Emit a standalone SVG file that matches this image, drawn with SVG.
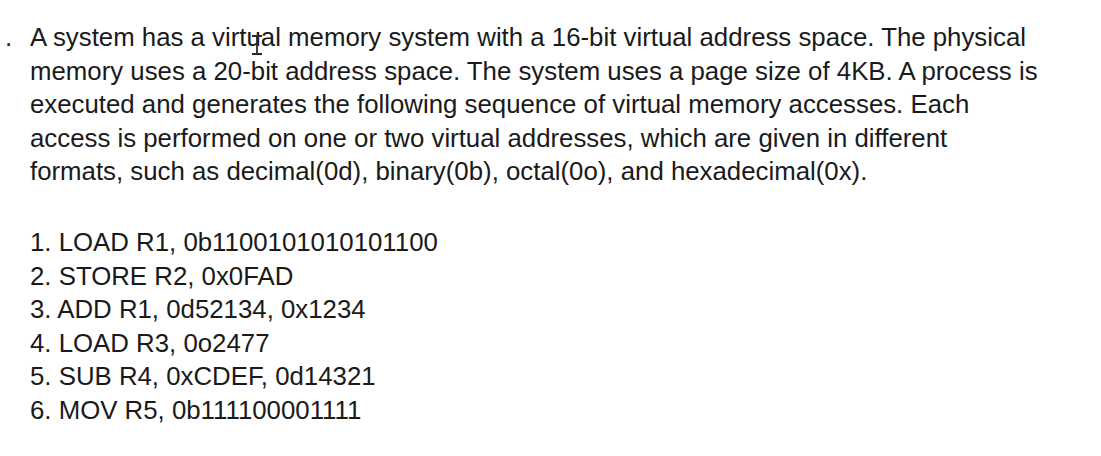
<svg xmlns="http://www.w3.org/2000/svg" width="1101" height="456" viewBox="0 0 1101 456">
<style>
.t{font-family:"Liberation Sans",Arial,sans-serif;font-size:25.8px;fill:#1a1a1a}
.cur{stroke:#2a2a2a;stroke-width:1.8;fill:none}
</style>
<rect width="1101" height="456" fill="#ffffff"/>
<g id="paragraph">
<text class="t" x="5" y="46">.</text>
<text class="t" x="30" y="46">A system has a virtual memory system with a 16-bit virtual address space. The physical</text>
<text class="t" x="30" y="79.6">memory uses a 20-bit address space. The system uses a page size of 4KB. A process is</text>
<text class="t" x="30" y="113.2">executed and generates the following sequence of virtual memory accesses. Each</text>
<text class="t" x="30" y="146.8">access is performed on one or two virtual addresses, which are given in different</text>
<text class="t" x="30" y="180.4">formats, such as decimal(0d), binary(0b), octal(0o), and hexadecimal(0x).</text>
</g>
<g id="list">
<text class="t" x="30" y="251">1. LOAD R1, 0b1100101010101100</text>
<text class="t" x="30" y="284.6">2. STORE R2, 0x0FAD</text>
<text class="t" x="30" y="318.2">3. ADD R1, 0d52134, 0x1234</text>
<text class="t" x="30" y="351.8">4. LOAD R3, 0o2477</text>
<text class="t" x="30" y="385.4">5. SUB R4, 0xCDEF, 0d14321</text>
<text class="t" x="30" y="419">6. MOV R5, 0b111100001111</text>
</g>
<g id="cursor">
<path class="cur" d="M252 36h10M257 36v18M252 54h10"/>
</g>
</svg>
